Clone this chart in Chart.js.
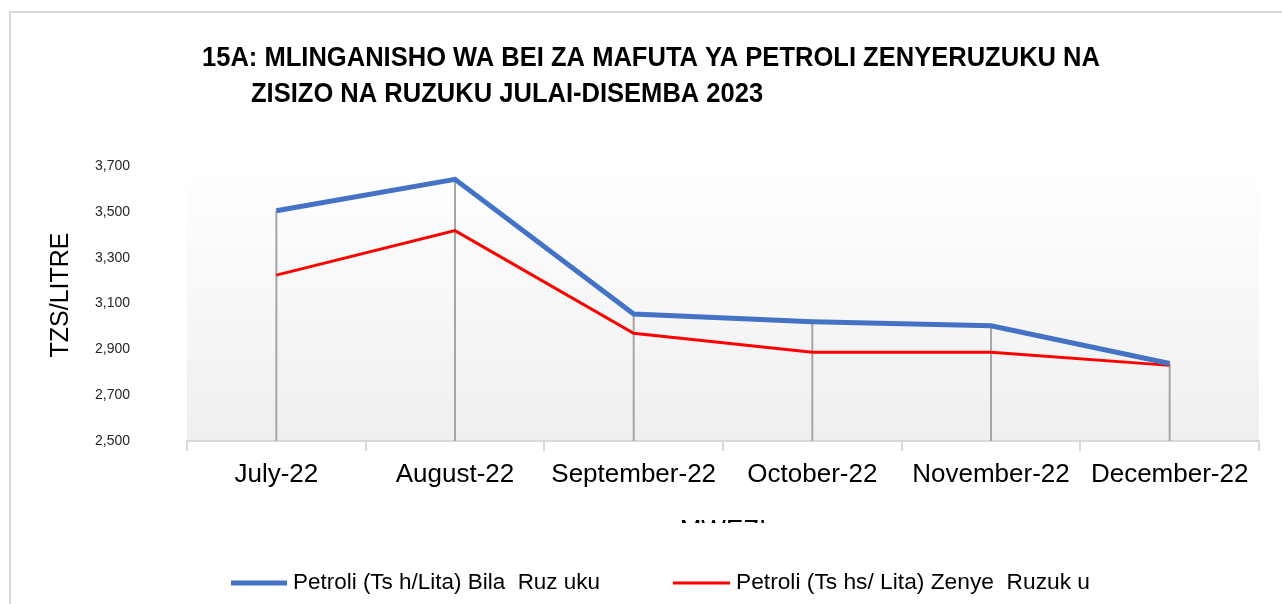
<!DOCTYPE html>
<html>
<head>
<meta charset="utf-8">
<script src="https://cdn.jsdelivr.net/npm/chart.js@4.4.0/dist/chart.umd.min.js"></script>
<style>
  html, body { margin: 0; padding: 0; background: #fff; }
  #wrap { width: 1282px; height: 604px; }
</style>
</head>
<body>
<div id="wrap"><canvas id="fuelChart" width="1282" height="604"></canvas></div>
<script>
const months = ['July-22', 'August-22', 'September-22', 'October-22', 'November-22', 'December-22'];
const bilaRuzuku = [3505, 3642, 3054, 3020, 3003, 2838];
const zenyeRuzuku = [3224, 3418, 2970, 2887, 2887, 2830];
const yTicks = [2500, 2700, 2900, 3100, 3300, 3500, 3700];
const seriesNames = ['Petroli (Ts h/Lita) Bila  Ruz uku', 'Petroli (Ts hs/ Lita) Zenye  Ruzuk u'];
const titleLines = ['15A: MLINGANISHO WA BEI ZA MAFUTA YA PETROLI ZENYERUZUKU NA', 'ZISIZO NA RUZUKU JULAI-DISEMBA 2023'];
const yTitle = 'TZS/LITRE';
const xTitle = 'MWEZI';

// fit a text to a given width (the source font is a condensed one)
function fitText(ctx, txt, x, y, w) {
  const m = ctx.measureText(txt).width;
  ctx.save();
  ctx.translate(x, y);
  ctx.scale(w / m, 1);
  ctx.fillText(txt, 0, 0);
  ctx.restore();
}

const background = {
  id: 'background',
  beforeDraw(chart) {
    const ctx = chart.ctx;
    const a = chart.chartArea;
    ctx.save();
    ctx.fillStyle = '#ffffff';
    ctx.fillRect(0, 0, chart.width, chart.height);
    ctx.strokeStyle = '#d9d9d9';
    ctx.lineWidth = 2;
    ctx.strokeRect(10, 12, chart.width + 20, chart.height + 20);
    const g = ctx.createLinearGradient(0, a.top, 0, a.bottom);
    g.addColorStop(0, '#ffffff');
    g.addColorStop(1, '#efefef');
    ctx.fillStyle = g;
    ctx.fillRect(a.left, a.top, a.right - a.left, a.bottom - a.top);
    ctx.restore();
  }
};

// excel style drop lines from the highest point down to the axis
const dropLines = {
  id: 'dropLines',
  beforeDatasetsDraw(chart) {
    const ctx = chart.ctx;
    const xs = chart.scales.x, ys = chart.scales.y;
    ctx.save();
    ctx.strokeStyle = '#a6a6a6';
    ctx.lineWidth = 2;
    months.forEach((m, i) => {
      const top = Math.max(bilaRuzuku[i], zenyeRuzuku[i]);
      const x = xs.getPixelForValue(i);
      ctx.beginPath();
      ctx.moveTo(x, ys.getPixelForValue(top));
      ctx.lineTo(x, chart.chartArea.bottom);
      ctx.stroke();
    });
    ctx.restore();
  }
};

const texts = {
  id: 'texts',
  afterDraw(chart) {
    const ctx = chart.ctx;
    ctx.save();
    ctx.fillStyle = '#000000';
    ctx.textBaseline = 'alphabetic';
    ctx.textAlign = 'left';
    ctx.font = 'bold 27px "Liberation Sans", Arial, sans-serif';
    const sx = 898 / ctx.measureText(titleLines[0]).width;
    [[202, 66], [251, 102]].forEach((p, i) => {
      ctx.save();
      ctx.translate(p[0], p[1]);
      ctx.scale(sx, 1);
      ctx.fillText(titleLines[i], 0, 0);
      ctx.restore();
    });

    // y axis title
    ctx.save();
    ctx.translate(61, 295);
    ctx.rotate(-Math.PI / 2);
    ctx.textAlign = 'center';
    ctx.textBaseline = 'middle';
    ctx.font = '25px "Liberation Sans", Arial, sans-serif';
    ctx.fillStyle = '#000000';
    ctx.fillText(yTitle, 0, 0);
    ctx.restore();

    // x axis title, cut off by the legend box in the original
    ctx.save();
    ctx.beginPath();
    ctx.rect(0, 0, chart.width, 523);
    ctx.clip();
    ctx.textAlign = 'center';
    ctx.font = '26px "Liberation Sans", Arial, sans-serif';
    ctx.fillText(xTitle, (chart.chartArea.left + chart.chartArea.right) / 2, 538);
    ctx.restore();

    // legend
    const items = [[231, 56, 307], [673, 57, 354]];
    chart.data.datasets.forEach((ds, i) => {
      const it = items[i];
      ctx.strokeStyle = ds.borderColor;
      ctx.lineWidth = ds.borderWidth;
      ctx.beginPath();
      ctx.moveTo(it[0], 583);
      ctx.lineTo(it[0] + it[1], 583);
      ctx.stroke();
      ctx.font = '22px "Liberation Sans", Arial, sans-serif';
      ctx.textBaseline = 'middle';
      ctx.textAlign = 'left';
      fitText(ctx, ds.label, it[0] + it[1] + 6, 583, it[2]);
    });
    ctx.restore();
  }
};

const chart = new Chart(document.getElementById('fuelChart').getContext('2d'), {
  type: 'line',
  data: {
    labels: months,
    datasets: [{
      label: seriesNames[0],
      data: bilaRuzuku,
      borderColor: '#4472C4',
      borderWidth: 5,
      pointRadius: 0,
      tension: 0
    }, {
      label: seriesNames[1],
      data: zenyeRuzuku,
      borderColor: '#FF0000',
      borderWidth: 3,
      pointRadius: 0,
      tension: 0
    }]
  },
  options: {
    responsive: false,
    animation: false,
    devicePixelRatio: 1,
    layout: { padding: { left: 0, right: 23, top: 166, bottom: 103 } },
    plugins: {
      legend: { display: false },
      title: { display: false },
      tooltip: { enabled: false }
    },
    scales: {
      x: {
        offset: true,
        grid: {
          offset: true,
          drawOnChartArea: false,
          drawTicks: true,
          tickLength: 10,
          color: '#d9d9d9',
          lineWidth: 2
        },
        border: { display: true, color: '#d9d9d9', width: 2 },
        ticks: {
          padding: 8,
          color: '#000000',
          maxRotation: 0,
          autoSkip: false,
          font: { family: '"Liberation Sans", Arial, sans-serif', size: 26 }
        },
        afterFit(scale) { scale.height = 60; }
      },
      y: {
        min: yTicks[0],
        max: yTicks[yTicks.length - 1],
        grid: { display: false, drawTicks: false },
        border: { display: false },
        afterBuildTicks(scale) { scale.ticks = yTicks.map(v => ({ value: v })); },
        ticks: {
          padding: 57,
          color: '#262626',
          font: { family: '"Liberation Sans", Arial, sans-serif', size: 14 },
          callback: v => v.toLocaleString('en-US')
        },
        afterFit(scale) { scale.width = 187; }
      }
    }
  },
  plugins: [background, dropLines, texts]
});
</script>
</body>
</html>
